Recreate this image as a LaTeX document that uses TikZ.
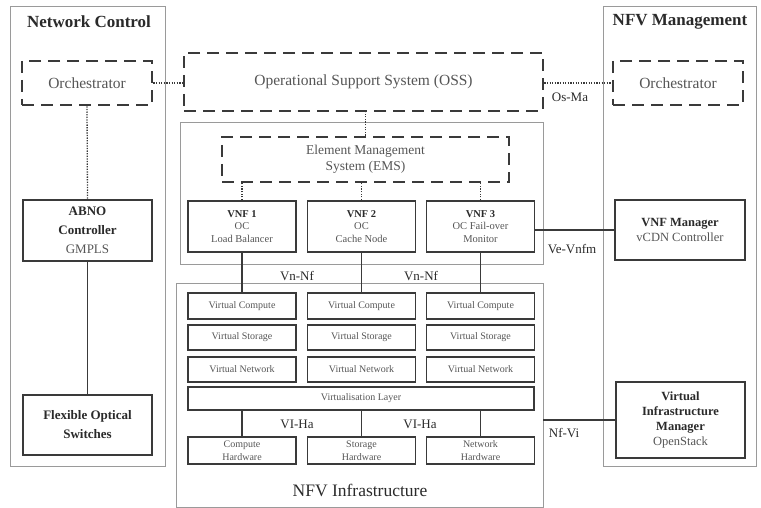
\documentclass[tikz,border=0pt]{standalone}
\usepackage{fontspec}
\setmainfont{Liberation Serif}
\usetikzlibrary{positioning}

\definecolor{boxline}{HTML}{3A3A3A}
\definecolor{panelline}{HTML}{9A9A9A}
\definecolor{boxtext}{HTML}{555555}
\definecolor{darktext}{HTML}{2A2A2A}

\begin{document}
\begin{tikzpicture}
		[
			x=1pt, y=-1pt,
			% A thin grey frame round each area.
			panel/.style={draw=panelline, line width=0.8pt, inner sep=0pt},
			% The thick dashed boxes.
			dashbox/.style={draw=boxline, line width=2.6pt, dash pattern=on 12pt off 7pt,
				inner sep=0pt, text=boxtext, font=\fontsize{15.5}{17}\selectfont, align=center},
			% The solid boxes.
			solidbox/.style={draw=boxline, line width=1.8pt, inner sep=0pt,
				text=boxtext, align=center},
			% Small boxes of the infrastructure.
			virtbox/.style={solidbox, minimum width=108pt, font=\fontsize{10}{12.5}\selectfont},
			vnfbox/.style={solidbox, minimum width=108pt, minimum height=51pt,
				font=\fontsize{10.5}{12.5}\selectfont},
			sidebox/.style={solidbox, minimum width=129pt, font=\fontsize{12.5}{15}\selectfont},
			% Titles and interface labels.
			title/.style={text=darktext, font=\fontsize{17}{19}\selectfont\bfseries},
			iface/.style={text=darktext, font=\fontsize{13}{15}\selectfont, inner sep=0pt},
			dotline/.style={draw=boxline, line width=1.3pt, dash pattern=on 1.3pt off 1.3pt},
			link/.style={draw=boxline, line width=1.4pt}
		]
			\useasboundingbox (0,0) rectangle (761,508);

			% Areas.
			\node[panel, minimum width=155pt, minimum height=460pt] (netctl) at (87.5,236) {};
			\node[panel, minimum width=153pt, minimum height=460pt] (nfvman) at (679.5,236) {};
			\node[panel, minimum width=363pt, minimum height=142pt] (vnfarea) at (361.5,193) {};
			\node[panel, minimum width=367pt, minimum height=224pt] (nfvi) at (359.5,395) {};
			\node[title] (netctltitle) at (89,22) {Network Control};
			\node[title] (nfvmantitle) at (680,22) {NFV Management};

			% Dashed boxes.
			\node[dashbox, minimum width=130pt, minimum height=44pt] (orchl) at (87,83) {Orchestrator};
			\node[dashbox, minimum width=359pt, minimum height=58pt] (oss) at (363.5,82)
				{Operational Support System (OSS)};
			\node[dashbox, minimum width=130pt, minimum height=44pt] (orchr) at (678,83) {Orchestrator};
			\node[dashbox, minimum width=287pt, minimum height=45pt,
				font=\fontsize{13.5}{16}\selectfont] (ems) at (365.5,159.5)
				{Element Management\\System (EMS)};

			% Network control side.
			\node[sidebox, minimum height=61pt, font=\fontsize{13}{19}\selectfont] (abno) at (87.5,230.5)
				{\textcolor{darktext}{\bfseries ABNO}\\\textcolor{darktext}{\bfseries Controller}\\GMPLS};
			\node[sidebox, minimum height=60pt, font=\fontsize{13}{19}\selectfont] (fos) at (87.5,425)
				{\textcolor{darktext}{\bfseries Flexible Optical}\\\textcolor{darktext}{\bfseries Switches}};

			% NFV management side.
			\node[sidebox, minimum width=130pt, minimum height=60pt] (vnfm) at (680,230)
				{\textcolor{darktext}{\bfseries VNF Manager}\\vCDN Controller};
			\node[sidebox, minimum height=76pt] (vim) at (680.5,420)
				{\textcolor{darktext}{\bfseries Virtual}\\\textcolor{darktext}{\bfseries Infrastructure}\\
				\textcolor{darktext}{\bfseries Manager}\\OpenStack};

			% Virtual network functions.
			\node[vnfbox] (vnf1) at (242,226.5)
				{\textcolor{darktext}{\bfseries VNF 1}\\OC\\Load Balancer};
			\node[vnfbox] (vnf2) at (361.5,226.5)
				{\textcolor{darktext}{\bfseries VNF 2}\\OC\\Cache Node};
			\node[vnfbox] (vnf3) at (480.5,226.5)
				{\textcolor{darktext}{\bfseries VNF 3}\\OC Fail-over\\Monitor};

			% Virtual resources.
			\node[virtbox, minimum height=26pt] (vc1) at (242,306) {Virtual Compute};
			\node[virtbox, minimum height=26pt] (vc2) at (361.5,306) {Virtual Compute};
			\node[virtbox, minimum height=26pt] (vc3) at (480.5,306) {Virtual Compute};
			\node[virtbox, minimum height=25pt] (vs1) at (242,337.5) {Virtual Storage};
			\node[virtbox, minimum height=25pt] (vs2) at (361.5,337.5) {Virtual Storage};
			\node[virtbox, minimum height=25pt] (vs3) at (480.5,337.5) {Virtual Storage};
			\node[virtbox, minimum height=25pt] (vn1) at (242,369.5) {Virtual Network};
			\node[virtbox, minimum height=25pt] (vn2) at (361.5,369.5) {Virtual Network};
			\node[virtbox, minimum height=25pt] (vn3) at (480.5,369.5) {Virtual Network};
			\node[virtbox, minimum width=346pt, minimum height=23pt] (vlayer) at (361,398.5)
				{Virtualisation Layer};

			% Hardware.
			\node[virtbox, minimum height=27pt] (hw1) at (242,450.5) {Compute\\Hardware};
			\node[virtbox, minimum height=27pt] (hw2) at (361.5,450.5) {Storage\\Hardware};
			\node[virtbox, minimum height=27pt] (hw3) at (480.5,450.5) {Network\\Hardware};

			% Interface labels.
			\node[iface] (osma) at (570,97) {Os-Ma};
			\node[iface] (vevnfm) at (572,249) {Ve-Vnfm};
			\node[iface] (vnnfa) at (297,276) {Vn-Nf};
			\node[iface] (vnnfb) at (421,276) {Vn-Nf};
			\node[iface] (vihaa) at (297,424) {VI-Ha};
			\node[iface] (vihab) at (420,424) {VI-Ha};
			\node[iface] (nfvilabel) at (564,433) {Nf-Vi};
			\node[text=darktext, font=\fontsize{17.5}{19}\selectfont] (nfvititle) at (360,490)
				{NFV Infrastructure};

			% Dotted links.
			\draw[dotline] (orchl.east) -- (orchl.east -| oss.west);
			\draw[dotline] (oss.east |- orchr.west) -- (orchr.west);
			\draw[dotline] (orchl.south) -- (abno.north);
			\draw[dotline] (ems.north) -- (ems.north |- oss.south);
			\draw[dotline] (vnf1.north) -- (vnf1.north |- ems.south);
			\draw[dotline] (vnf2.north) -- (vnf2.north |- ems.south);
			\draw[dotline] (vnf3.north) -- (vnf3.north |- ems.south);

			% Solid links.
			\draw[link] (abno.south) -- (fos.north);
			\draw[link] (vnf3.east |- vnfm.west) -- (vnfm.west);
			\draw[link] (vnf1.south) -- (vc1.north);
			\draw[link] (vnf2.south) -- (vc2.north);
			\draw[link] (vnf3.south) -- (vc3.north);
			\draw[link] (hw1.north |- vlayer.south) -- (hw1.north);
			\draw[link] (hw2.north |- vlayer.south) -- (hw2.north);
			\draw[link] (hw3.north |- vlayer.south) -- (hw3.north);
			\draw[link] (nfvi.east |- vim.west) -- (vim.west);
		\end{tikzpicture}
\end{document}
